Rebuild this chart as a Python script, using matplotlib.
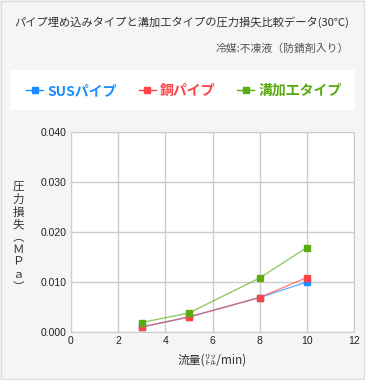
import matplotlib
matplotlib.use('Agg')
import matplotlib.pyplot as plt
from matplotlib.patches import Rectangle
from matplotlib.lines import Line2D

CJK = ['Noto Sans CJK JP', 'DejaVu Sans']
plt.rcParams['font.family'] = ['Liberation Sans', 'Noto Sans CJK JP', 'DejaVu Sans']

flow = [3, 5, 8, 10]
sus = [0.001, 0.003, 0.0069, 0.0100]
copper = [0.001, 0.003, 0.0069, 0.0109]
groove = [0.0019, 0.0038, 0.0108, 0.0169]
names = ['SUSパイプ', '銅パイプ', '溝加工タイプ']
colors = ['#1a8cff', '#ff4444', '#5aab10']

title = 'パイプ埋め込みタイプと溝加工タイプの圧力損失比較データ(30℃)'
subtitle = '冷媒:不凍液（防錆剤入り）'
ylabel = '圧力損失︵ＭＰａ︶'
xlabel = '流量(㍑/min)'


def main():
    fig = plt.figure(figsize=(3.65, 3.80), dpi=100, facecolor='#f5f5f5')
    fig.patches.append(Rectangle((0.002, 0.002), 0.996, 0.996, transform=fig.transFigure,
                                 facecolor='none', edgecolor='#dddddd', lw=1))
    # legend background box
    fig.patches.append(Rectangle((10 / 365, 1 - 110 / 380), 345 / 365, 40 / 380,
                                 transform=fig.transFigure, facecolor='white',
                                 edgecolor='none', zorder=0))

    fig.text(349 / 365, 1 - 22 / 380, title, ha='right', va='center',
             fontsize=8.1, color='#333333', family=CJK)
    fig.text(349 / 365, 1 - 49 / 380, subtitle, ha='right', va='center',
             fontsize=7.8, color='#555555', family=CJK)

    ax = fig.add_axes([71 / 365, 48 / 380, 283 / 365, 200 / 380])
    ax.set_facecolor('white')

    series = [sus, copper, groove]
    handles = []
    for vals, name, c in zip(series, names, colors):
        ax.plot(flow, vals, color=c, lw=1, alpha=0.65, zorder=2)
        ax.plot(flow, vals, ls='none', marker='s', ms=4.5, color=c, zorder=3)
        handles.append(Line2D([], [], color=c, lw=1, marker='s', ms=4.5))

    ax.set_xlim(0, 12)
    ax.set_ylim(0, 0.040)
    ax.set_xticks(range(0, 13, 2))
    ax.set_yticks([0, 0.01, 0.02, 0.03, 0.04])
    ax.set_yticklabels(['0.000', '0.010', '0.020', '0.030', '0.040'])
    ax.grid(True, color='#cccccc', lw=1)
    ax.set_axisbelow(True)
    for s in ax.spines.values():
        s.set_color('#cccccc')
    ax.tick_params(length=0, labelsize=7.5, colors='#222222', pad=3)

    ax.set_xlabel(xlabel, fontsize=8.5, color='#333333', family=CJK, labelpad=5)
    fig.text(18 / 365, 1 - 237 / 380, '\n'.join(ylabel), ha='center', va='center',
             fontsize=8.3, color='#333333', family=CJK, linespacing=0.95)

    leg = fig.legend(handles, names, loc='center', bbox_to_anchor=(184 / 365, 1 - 91 / 380),
                     ncol=3, frameon=False, handlelength=1.2, handletextpad=0.3,
                     columnspacing=1.6, prop={'family': CJK, 'size': 10, 'weight': 'bold'})
    for t, c in zip(leg.get_texts(), colors):
        t.set_color(c)

    fig.savefig('out.png', dpi=100, facecolor=fig.get_facecolor())


if __name__ == "__main__":
    main()
